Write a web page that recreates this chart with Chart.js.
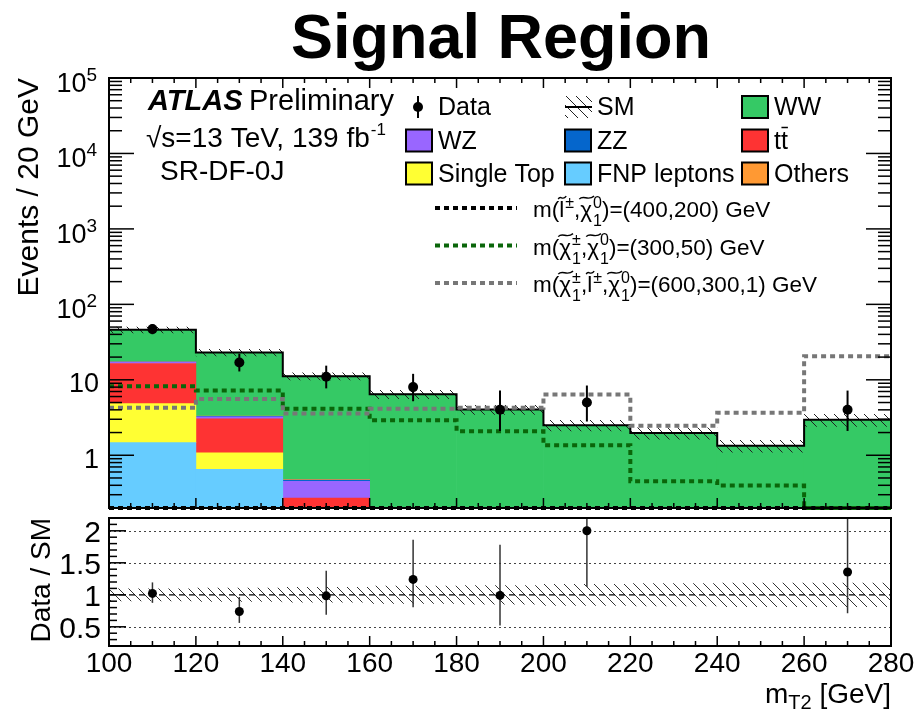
<!DOCTYPE html>
<html>
<head>
<meta charset="utf-8">
<script src="https://cdn.jsdelivr.net/npm/chart.js@4.4.1/dist/chart.umd.min.js"></script>
<style>
  html, body { margin: 0; padding: 0; background: #fff; }
  #wrap { position: relative; width: 916px; height: 712px; }
  #wrap canvas { position: absolute; left: 0; top: 0; }
</style>
</head>
<body>
<div id="wrap">
  <canvas id="ratio" width="916" height="712"></canvas>
  <canvas id="main" width="916" height="712"></canvas>
</div>
<script>
const FONT = "'Liberation Sans', Arial, Helvetica, sans-serif";

// m_T2 binning, 20 GeV per bin
const binEdges = [100, 120, 140, 160, 180, 200, 220, 240, 260, 280];
const binCentres = [110, 130, 150, 170, 190, 210, 230, 250, 270];

// expected events per bin, listed bottom to top of the stack
const fnpLeptons = [1.47, 0.65, 0, 0, 0, 0, 0, 0, 0];
const singleTop = [3.37, 0.43, 0, 0, 0, 0, 0, 0, 0];
const ttbar = [11.6, 1.95, 0.27, 0.06, 0.03, 0, 0, 0, 0];
const wz = [0.7, 0.2, 0.18, 0.08, 0.05, 0.04, 0.03, 0.02, 0.04];
const zz = [0.1, 0.05, 0.02, 0.01, 0.01, 0.01, 0, 0, 0.01];
const others = [0.05, 0.03, 0.01, 0, 0, 0, 0, 0, 0];
const ww = [28.7, 19.7, 10.7, 6.3, 3.95, 2.45, 1.95, 1.32, 2.9];

// relative uncertainty on the total SM prediction
const smUncertainty = [0.10, 0.11, 0.12, 0.14, 0.15, 0.17, 0.18, 0.19, 0.19];

// observed events with asymmetric Poisson errors
const dataCounts = [47, 17, 11, 8, 4, 5, 0, 0, 4];
const dataErrUp = [7.9, 5.2, 4.4, 4.0, 3.2, 3.4, 0, 0, 3.2];
const dataErrDown = [6.8, 4.1, 3.3, 2.8, 1.9, 2.2, 0, 0, 1.9];

// signal benchmarks (0.2 sits on the axis floor)
const sigSlepton = [0.2, 0.2, 0.2, 0.2, 0.2, 0.2, 0.2, 0.2, 0.2];
const sigChargino = [8.2, 7.2, 4.12, 2.91, 2.08, 1.36, 0.453, 0.397, 0.2];
const sigCharginoSlepton = [4.25, 5.58, 3.57, 4.15, 4.25, 6.37, 2.47, 3.65, 20.5];

// axis ticks
const xTickLabels = [100, 120, 140, 160, 180, 200, 220, 240, 260, 280];
const xMinorStep = 5;
const yDecades = [1, 10, 100, 1000, 10000, 100000];
const ratioTicks = [0.5, 1, 1.5, 2];
const ratioGuides = [0.5, 1.5, 2];

const colors = {
  ww: '#35c965', wz: '#9966ff', zz: '#0566cc', ttbar: '#fe3333',
  singleTop: '#ffff33', fnp: '#66ccff', others: '#ff9933',
  sigSlepton: '#000000', sigChargino: '#0a660a', sigCharginoSlepton: '#777777'
};

const bkgSpecs = [
  ['FNP leptons', fnpLeptons, colors.fnp],
  ['Single Top', singleTop, colors.singleTop],
  ['ttbar', ttbar, colors.ttbar],
  ['WZ', wz, colors.wz],
  ['ZZ', zz, colors.zz],
  ['Others', others, colors.others],
  ['WW', ww, colors.ww]
];

const smTotal = binCentres.map((_, i) => bkgSpecs.reduce((s, b) => s + b[1][i], 0));

// turn per-bin values into step points along the bin edges
function histPoints(values) {
  const pts = [];
  values.forEach((v, i) => {
    pts.push({ x: binEdges[i], y: v });
    pts.push({ x: binEdges[i + 1], y: v });
  });
  return pts;
}

function makeHatch(ctx, step, color) {
  const c = document.createElement('canvas');
  c.width = step; c.height = step;
  const g = c.getContext('2d');
  g.strokeStyle = color;
  g.lineWidth = 1;
  g.beginPath();
  g.moveTo(-1, -1); g.lineTo(step + 1, step + 1);
  g.moveTo(-1, step - 1); g.lineTo(1, step + 1);
  g.moveTo(step - 1, -1); g.lineTo(step + 1, 1);
  g.stroke();
  return ctx.createPattern(c, 'repeat');
}

function line(ctx, x0, y0, x1, y1) {
  ctx.beginPath();
  ctx.moveTo(x0, y0);
  ctx.lineTo(x1, y1);
  ctx.stroke();
}

// points for bins with data
const dataPts = [], dataUp = [], dataDown = [], ratioPts = [], ratioUp = [], ratioDown = [];
dataCounts.forEach((n, i) => {
  if (n <= 0) return;
  dataPts.push({ x: binCentres[i], y: n });
  dataUp.push(dataErrUp[i]);
  dataDown.push(dataErrDown[i]);
  ratioPts.push({ x: binCentres[i], y: n / smTotal[i] });
  ratioUp.push(dataErrUp[i] / smTotal[i]);
  ratioDown.push(dataErrDown[i] / smTotal[i]);
});

const errorBars = {
  id: 'errorBars',
  beforeDatasetDraw(chart, args) {
    const ds = chart.data.datasets[args.index];
    if (!ds.errUp) return;
    const { ctx, chartArea: a, scales: { x, y } } = chart;
    ctx.save();
    ctx.beginPath();
    ctx.rect(a.left, a.top, a.right - a.left, a.bottom - a.top);
    ctx.clip();
    ctx.strokeStyle = ds.errColor;
    ctx.lineWidth = ds.errWidth;
    ds.data.forEach((p, i) => {
      const px = x.getPixelForValue(p.x);
      line(ctx, px, y.getPixelForValue(p.y + ds.errUp[i]),
        px, y.getPixelForValue(Math.max(p.y - ds.errDown[i], 1e-4)));
    });
    ctx.restore();
  }
};

// text with optional tilde, superscript and subscript
function drawRich(ctx, x, y, parts, size) {
  const small = Math.round(size * 0.72);
  ctx.textAlign = 'left';
  ctx.textBaseline = 'alphabetic';
  parts.forEach(p => {
    ctx.font = `${size}px ${FONT}`;
    ctx.fillText(p.t, x, y);
    const w = ctx.measureText(p.t).width;
    if (p.tilde) {
      const ty = y - size * 0.86;
      ctx.save();
      ctx.lineWidth = 1.4;
      ctx.beginPath();
      ctx.moveTo(x - 1, ty + 1.5);
      ctx.bezierCurveTo(x + w * 0.3, ty - 3.5, x + w * 0.6, ty + 4, x + w + 2, ty - 1.5);
      ctx.stroke();
      ctx.restore();
    }
    x += w;
    if (p.sup || p.sub) {
      ctx.font = `${small}px ${FONT}`;
      let adv = 0;
      if (p.sup) { ctx.fillText(p.sup, x + 1, y - size * 0.42); adv = ctx.measureText(p.sup).width + 1; }
      if (p.sub) { ctx.fillText(p.sub, x + 1, y + size * 0.4); adv = Math.max(adv, ctx.measureText(p.sub).width + 1); }
      x += adv;
    }
  });
}

const legendBoxes = [
  { col: 0, row: 1, label: 'WZ', color: colors.wz },
  { col: 0, row: 2, label: 'Single Top', color: colors.singleTop },
  { col: 1, row: 1, label: 'ZZ', color: colors.zz },
  { col: 1, row: 2, label: 'FNP leptons', color: colors.fnp },
  { col: 2, row: 0, label: 'WW', color: colors.ww },
  { col: 2, row: 1, label: 'tt', color: colors.ttbar, bar: true },
  { col: 2, row: 2, label: 'Others', color: colors.others }
];
const legendColX = [406, 565, 742];
const legendRowY = [107, 140.5, 173.5];

const signalLegend = [
  { color: colors.sigSlepton, parts: [{ t: 'm(' }, { t: 'l', tilde: 1, sup: '±' }, { t: ',' }, { t: 'χ', tilde: 1, sup: '0', sub: '1' }, { t: ')=(400,200) GeV' }] },
  { color: colors.sigChargino, parts: [{ t: 'm(' }, { t: 'χ', tilde: 1, sup: '±', sub: '1' }, { t: ',' }, { t: 'χ', tilde: 1, sup: '0', sub: '1' }, { t: ')=(300,50) GeV' }] },
  { color: colors.sigCharginoSlepton, parts: [{ t: 'm(' }, { t: 'χ', tilde: 1, sup: '±', sub: '1' }, { t: ',' }, { t: 'l', tilde: 1, sup: '±' }, { t: ',' }, { t: 'χ', tilde: 1, sup: '0', sub: '1' }, { t: ')=(600,300,1) GeV' }] }
];

const mainCanvas = document.getElementById('main');
const mainCtx = mainCanvas.getContext('2d');
const hatchMain = makeHatch(mainCtx, 10, '#222');

const mainDecor = {
  id: 'mainDecor',
  afterDraw(chart) {
    const { ctx, chartArea: a, scales: { x, y } } = chart;
    ctx.save();
    ctx.fillStyle = '#000';
    ctx.strokeStyle = '#000';

    // frame and ticks
    ctx.lineWidth = 1.5;
    for (let v = binEdges[0]; v <= binEdges[binEdges.length - 1]; v += xMinorStep) {
      const px = x.getPixelForValue(v);
      const len = xTickLabels.includes(v) ? 10 : 5;
      line(ctx, px, a.top, px, a.top + len);
      line(ctx, px, a.bottom, px, a.bottom - len);
    }
    for (let e = -1; e <= 5; e++) {
      for (let m = 1; m <= 9; m++) {
        const v = m * Math.pow(10, e);
        if (v < y.min - 1e-9 || v > y.max + 1e-9) continue;
        const py = y.getPixelForValue(v);
        const len = m === 1 ? 25 : 13;
        line(ctx, a.left, py, a.left + len, py);
        line(ctx, a.right, py, a.right - len, py);
      }
    }
    ctx.lineWidth = 2;
    ctx.strokeRect(a.left, a.top, a.right - a.left, a.bottom - a.top);

    // y tick labels
    ctx.textBaseline = 'alphabetic';
    yDecades.forEach(v => {
      const py = y.getPixelForValue(v);
      const exp = Math.round(Math.log10(v));
      if (exp <= 1) {
        ctx.font = `27px ${FONT}`;
        ctx.textAlign = 'right';
        ctx.fillText(String(v), 99, py + 12.5);
        return;
      }
      ctx.textAlign = 'left';
      ctx.font = `27px ${FONT}`;
      const wb = ctx.measureText('10').width;
      ctx.font = `19px ${FONT}`;
      const we = ctx.measureText(String(exp)).width;
      const x0 = 97 - wb - we;
      ctx.font = `27px ${FONT}`;
      ctx.fillText('10', x0, py + 14);
      ctx.font = `19px ${FONT}`;
      ctx.fillText(String(exp), x0 + wb, py + 3);
    });

    // y axis title
    ctx.save();
    ctx.translate(38, a.top);
    ctx.rotate(-Math.PI / 2);
    ctx.textAlign = 'right';
    ctx.font = `30px ${FONT}`;
    ctx.fillText('Events / 20 GeV', 0, 0);
    ctx.restore();

    // title
    ctx.textAlign = 'center';
    ctx.font = `bold 63px ${FONT}`;
    ctx.fillText('Signal Region', 501, 58);

    // ATLAS label block
    ctx.textAlign = 'left';
    ctx.font = `italic bold 29px ${FONT}`;
    ctx.fillText('ATLAS', 148, 110);
    ctx.font = `29px ${FONT}`;
    ctx.fillText('Preliminary', 249, 110);
    ctx.font = `28px ${FONT}`;
    const lumi = '\u221As=13 TeV, 139 fb';
    ctx.fillText(lumi, 146, 147);
    const lw = ctx.measureText(lumi).width;
    ctx.font = `17px ${FONT}`;
    ctx.fillText('-1', 146 + lw + 1, 135);
    ctx.font = `28px ${FONT}`;
    ctx.fillText('SR-DF-0J', 160, 180);

    // legend: data, SM, backgrounds
    ctx.font = `25px ${FONT}`;
    ctx.lineWidth = 2;
    line(ctx, 418, 96, 418, 118);
    ctx.beginPath();
    ctx.arc(418, 107, 5, 0, Math.PI * 2);
    ctx.fill();
    ctx.fillText('Data', 438, 115);

    ctx.fillStyle = hatchMain;
    ctx.fillRect(565, 96, 27, 22);
    ctx.fillStyle = '#000';
    ctx.lineWidth = 2;
    line(ctx, 565, 107, 592, 107);
    ctx.fillText('SM', 597, 115);

    legendBoxes.forEach(b => {
      const bx = legendColX[b.col];
      const cy = legendRowY[b.row];
      ctx.fillStyle = b.color;
      ctx.fillRect(bx, cy - 11, 26, 22);
      ctx.strokeStyle = '#000';
      ctx.lineWidth = 2;
      ctx.strokeRect(bx, cy - 11, 26, 22);
      ctx.fillStyle = '#000';
      const tx = bx + 32;
      const base = cy + 8;
      ctx.font = `25px ${FONT}`;
      ctx.fillText(b.label, tx, base);
      if (b.bar) {
        const wt = ctx.measureText('t').width;
        ctx.lineWidth = 1.5;
        line(ctx, tx + wt + 0.5, base - 21, tx + 2 * wt, base - 21);
      }
    });

    // legend: signal lines
    signalLegend.forEach((s, i) => {
      const ly = 208 + i * 37.5;
      ctx.save();
      ctx.strokeStyle = s.color;
      ctx.lineWidth = 4;
      ctx.setLineDash([5, 4]);
      line(ctx, 435, ly, 517, ly);
      ctx.restore();
      ctx.fillStyle = '#000';
      ctx.strokeStyle = '#000';
      drawRich(ctx, 533, ly + 9, s.parts, 22.5);
    });

    ctx.restore();
  }
};

const barDatasets = bkgSpecs.map(([label, vals, color]) => ({
  type: 'bar',
  label,
  data: binCentres.map((x, i) => ({ x, y: vals[i] })),
  backgroundColor: color,
  borderWidth: 0,
  barPercentage: 1,
  categoryPercentage: 1,
  stack: 'bkg',
  order: 10
}));

function stepLine(label, values, opts) {
  return Object.assign({
    type: 'line',
    label,
    data: histPoints(values),
    pointRadius: 0,
    fill: false,
    stack: label
  }, opts);
}

new Chart(mainCtx, {
  type: 'bar',
  data: {
    datasets: [
      ...barDatasets,
      stepLine('bandLo', smTotal.map((v, i) => v * (1 - smUncertainty[i])),
        { borderColor: 'rgba(0,0,0,0)', order: 5 }),
      stepLine('bandHi', smTotal.map((v, i) => v * (1 + smUncertainty[i])),
        { borderColor: 'rgba(0,0,0,0)', fill: '-1', backgroundColor: hatchMain, order: 5 }),
      stepLine('SM', smTotal, { borderColor: '#000', borderWidth: 2, order: 4 }),
      stepLine('sigSlepton', sigSlepton,
        { borderColor: colors.sigSlepton, borderWidth: 4, borderDash: [5, 4], clip: 4, order: 3 }),
      stepLine('sigChargino', sigChargino,
        { borderColor: colors.sigChargino, borderWidth: 4, borderDash: [5, 4], clip: 4, order: 2 }),
      stepLine('sigCharginoSlepton', sigCharginoSlepton,
        { borderColor: colors.sigCharginoSlepton, borderWidth: 4, borderDash: [5, 4], clip: 4, order: 1 }),
      {
        type: 'scatter',
        label: 'Data',
        data: dataPts,
        errUp: dataUp,
        errDown: dataDown,
        errColor: '#000',
        errWidth: 2,
        pointRadius: 5,
        pointBackgroundColor: '#000',
        pointBorderWidth: 0,
        stack: 'data',
        order: 0
      }
    ]
  },
  options: {
    responsive: false,
    animation: false,
    events: [],
    layout: { padding: { left: 109, right: 25, top: 78, bottom: 204 } },
    plugins: { legend: { display: false }, tooltip: { enabled: false } },
    scales: {
      x: { type: 'linear', min: 100, max: 280, offset: false, stacked: true, display: false },
      y: { type: 'logarithmic', min: 0.2, max: 100000, stacked: true, bounds: 'data', display: false }
    }
  },
  plugins: [errorBars, mainDecor]
});

// ratio panel
const ratioCtx = document.getElementById('ratio').getContext('2d');
const hatchRatio = makeHatch(ratioCtx, 10, '#333');

const ratioDecor = {
  id: 'ratioDecor',
  beforeDatasetsDraw(chart) {
    const { ctx, chartArea: a, scales: { y } } = chart;
    ctx.save();
    ctx.strokeStyle = '#444';
    ctx.lineWidth = 1;
    ctx.setLineDash([2, 3]);
    ratioGuides.forEach(v => {
      const py = Math.round(y.getPixelForValue(v)) + 0.5;
      line(ctx, a.left, py, a.right, py);
    });
    ctx.restore();
  },
  afterDatasetsDraw(chart) {
    const { ctx, chartArea: a, scales: { y } } = chart;
    ctx.save();
    ctx.strokeStyle = '#000';
    ctx.lineWidth = 1.3;
    ctx.setLineDash([6, 4]);
    const py = y.getPixelForValue(1);
    line(ctx, a.left, py, a.right, py);
    ctx.restore();
  },
  afterDraw(chart) {
    const { ctx, chartArea: a, scales: { x, y } } = chart;
    ctx.save();
    ctx.fillStyle = '#000';
    ctx.strokeStyle = '#000';
    ctx.lineWidth = 1.5;
    for (let v = binEdges[0]; v <= binEdges[binEdges.length - 1]; v += xMinorStep) {
      const px = x.getPixelForValue(v);
      line(ctx, px, a.bottom, px, a.bottom - (xTickLabels.includes(v) ? 10 : 5));
    }
    for (let k = 2; k <= 22; k++) {
      const v = k / 10;
      const major = ratioTicks.some(t => Math.abs(t - v) < 1e-9);
      const py = y.getPixelForValue(v);
      line(ctx, a.left, py, a.left + (major ? 17 : 8), py);
    }
    ctx.lineWidth = 2;
    ctx.strokeRect(a.left, a.top, a.right - a.left, a.bottom - a.top);

    ctx.textBaseline = 'alphabetic';
    ctx.textAlign = 'right';
    ctx.font = `30px ${FONT}`;
    ratioTicks.forEach(v => {
      ctx.fillText(String(v), 101, y.getPixelForValue(v) + 11.5);
    });

    ctx.textAlign = 'center';
    ctx.font = `28px ${FONT}`;
    xTickLabels.forEach(v => {
      ctx.fillText(String(v), x.getPixelForValue(v), 672);
    });

    // x axis title: m_T2 [GeV]
    ctx.textAlign = 'left';
    ctx.font = `28px ${FONT}`;
    const wm = ctx.measureText('m').width;
    const wg = ctx.measureText(' [GeV]').width;
    ctx.font = `20px ${FONT}`;
    const ws = ctx.measureText('T2').width;
    const x0 = a.right - wm - ws - wg;
    ctx.font = `28px ${FONT}`;
    ctx.fillText('m', x0, 703);
    ctx.fillText(' [GeV]', x0 + wm + ws, 703);
    ctx.font = `20px ${FONT}`;
    ctx.fillText('T2', x0 + wm, 709);

    // y axis title
    ctx.translate(50, a.top);
    ctx.rotate(-Math.PI / 2);
    ctx.textAlign = 'right';
    ctx.font = `28px ${FONT}`;
    ctx.fillText('Data / SM', 0, 0);
    ctx.restore();
  }
};

new Chart(ratioCtx, {
  type: 'line',
  data: {
    datasets: [
      stepLine('ratioBandLo', smUncertainty.map(u => 1 - u),
        { borderColor: 'rgba(0,0,0,0)', order: 5 }),
      stepLine('ratioBandHi', smUncertainty.map(u => 1 + u),
        { borderColor: 'rgba(0,0,0,0)', fill: '-1', backgroundColor: hatchRatio, order: 5 }),
      {
        type: 'scatter',
        label: 'Data / SM',
        data: ratioPts,
        errUp: ratioUp,
        errDown: ratioDown,
        errColor: '#333',
        errWidth: 1.5,
        pointRadius: 4.5,
        pointBackgroundColor: '#000',
        pointBorderWidth: 0,
        order: 0
      }
    ]
  },
  options: {
    responsive: false,
    animation: false,
    events: [],
    layout: { padding: { left: 109, right: 25, top: 518, bottom: 66 } },
    plugins: { legend: { display: false }, tooltip: { enabled: false } },
    scales: {
      x: { type: 'linear', min: 100, max: 280, offset: false, display: false },
      y: { type: 'linear', min: 0.2, max: 2.2, display: false }
    }
  },
  plugins: [errorBars, ratioDecor]
});
</script>
</body>
</html>
